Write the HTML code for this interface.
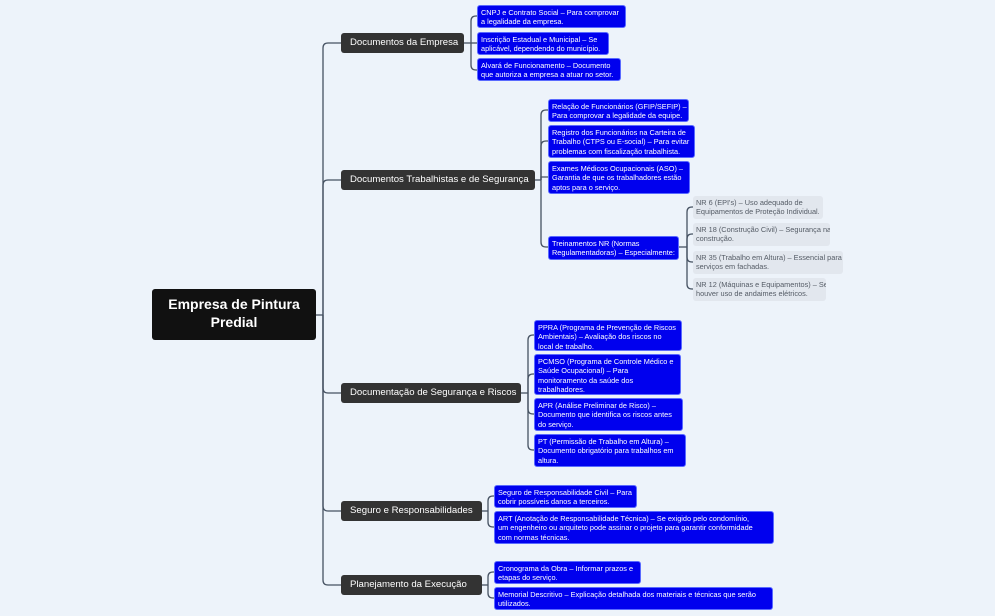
<!DOCTYPE html>
<html><head><meta charset="utf-8"><style>
body{margin:0;width:995px;height:616px;background:#edf3fa;position:relative;overflow:hidden;font-family:"Liberation Sans",sans-serif}
.n{position:absolute;box-sizing:border-box}
.root{background:#111;color:#fff;font-weight:bold;font-size:14px;line-height:18px;text-align:center;border-radius:3px;padding-top:6px}
.l1{background:#333;color:#fff;font-size:9.6px;line-height:20px;border-radius:3px;padding-left:9px;white-space:nowrap}
.lf{background:#0000ee;border:1px solid #5a6aff;color:#fff;font-size:7.35px;line-height:9.4px;border-radius:3px;padding:2px 2px 2px 3px;white-space:nowrap;overflow:hidden}
.g{background:#e2e7ee;color:#555c66;font-size:7.35px;line-height:9.4px;border-radius:3px;padding:2px 2px 2px 3px;white-space:nowrap;overflow:hidden}
svg{position:absolute;left:0;top:0}
path{fill:none;stroke:#465262;stroke-width:1.3}
</style></head><body>
<svg width="995" height="616">
<path d="M316 315 H323"/>
<path d="M323 315 V48 Q323 43 328 43 H341"/>
<path d="M323 315 V185 Q323 180 328 180 H341"/>
<path d="M323 315 V388 Q323 393 328 393 H341"/>
<path d="M323 315 V506 Q323 511 328 511 H341"/>
<path d="M323 315 V580 Q323 585 328 585 H341"/>
<path d="M464 43 H471"/>
<path d="M471 43 V21 Q471 16 476 16 H477"/>
<path d="M471 43 H477"/>
<path d="M471 43 V65 Q471 70 476 70 H477"/>
<path d="M535 180 H541"/>
<path d="M541 180 V115 Q541 110 546 110 H548"/>
<path d="M541 180 V146 Q541 141 546 141 H548"/>
<path d="M541 180 V177 H548"/>
<path d="M541 180 V242 Q541 247 546 247 H548"/>
<path d="M679 247 H687"/>
<path d="M687 247 V212 Q687 207 692 207 H693"/>
<path d="M687 247 V239 Q687 234 692 234 H693"/>
<path d="M687 247 V257 Q687 262 692 262 H693"/>
<path d="M687 247 V284 Q687 289 692 289 H693"/>
<path d="M521 393 H528"/>
<path d="M528 393 V340 Q528 335 533 335 H534"/>
<path d="M528 393 V379 Q528 374 533 374 H534"/>
<path d="M528 393 V409 Q528 414 533 414 H534"/>
<path d="M528 393 V445 Q528 450 533 450 H534"/>
<path d="M482 511 H488"/>
<path d="M488 511 V501 Q488 496 493 496 H494"/>
<path d="M488 511 V522 Q488 527 493 527 H494"/>
<path d="M482 585 H488"/>
<path d="M488 585 V577 Q488 572 493 572 H494"/>
<path d="M488 585 V593 Q488 598 493 598 H494"/>
</svg>

<div class="n root" style="left:152px;top:289px;width:164px;height:51px">Empresa de Pintura<br>Predial</div>

<div class="n l1" style="left:341px;top:33px;width:123px;height:20px">Documentos da Empresa</div>
<div class="n l1" style="left:341px;top:170px;width:194px;height:20px">Documentos Trabalhistas e de Segurança</div>
<div class="n l1" style="left:341px;top:383px;width:180px;height:20px">Documentação de Segurança e Riscos</div>
<div class="n l1" style="left:341px;top:501px;width:141px;height:20px">Seguro e Responsabilidades</div>
<div class="n l1" style="left:341px;top:575px;width:141px;height:20px">Planejamento da Execução</div>

<div class="n lf" style="left:477px;top:5px;width:149px;height:23px">CNPJ e Contrato Social – Para comprovar<br>a legalidade da empresa.</div>
<div class="n lf" style="left:477px;top:32px;width:132px;height:23px">Inscrição Estadual e Municipal – Se<br>aplicável, dependendo do município.</div>
<div class="n lf" style="left:477px;top:58px;width:144px;height:23px">Alvará de Funcionamento – Documento<br>que autoriza a empresa a atuar no setor.</div>

<div class="n lf" style="left:548px;top:99px;width:141px;height:23px">Relação de Funcionários (GFIP/SEFIP) –<br>Para comprovar a legalidade da equipe.</div>
<div class="n lf" style="left:548px;top:125px;width:147px;height:33px">Registro dos Funcionários na Carteira de<br>Trabalho (CTPS ou E-social) – Para evitar<br>problemas com fiscalização trabalhista.</div>
<div class="n lf" style="left:548px;top:161px;width:142px;height:33px">Exames Médicos Ocupacionais (ASO) –<br>Garantia de que os trabalhadores estão<br>aptos para o serviço.</div>
<div class="n lf" style="left:548px;top:236px;width:131px;height:24px">Treinamentos NR (Normas<br>Regulamentadoras) – Especialmente:</div>

<div class="n g" style="left:693px;top:196px;width:130px;height:23px">NR 6 (EPI's) – Uso adequado de<br>Equipamentos de Proteção Individual.</div>
<div class="n g" style="left:693px;top:223px;width:137px;height:23px">NR 18 (Construção Civil) – Segurança na<br>construção.</div>
<div class="n g" style="left:693px;top:251px;width:150px;height:23px">NR 35 (Trabalho em Altura) – Essencial para<br>serviços em fachadas.</div>
<div class="n g" style="left:693px;top:278px;width:133px;height:23px">NR 12 (Máquinas e Equipamentos) – Se<br>houver uso de andaimes elétricos.</div>

<div class="n lf" style="left:534px;top:320px;width:148px;height:31px">PPRA (Programa de Prevenção de Riscos<br>Ambientais) – Avaliação dos riscos no<br>local de trabalho.</div>
<div class="n lf" style="left:534px;top:354px;width:147px;height:41px">PCMSO (Programa de Controle Médico e<br>Saúde Ocupacional) – Para<br>monitoramento da saúde dos<br>trabalhadores.</div>
<div class="n lf" style="left:534px;top:398px;width:149px;height:33px">APR (Análise Preliminar de Risco) –<br>Documento que identifica os riscos antes<br>do serviço.</div>
<div class="n lf" style="left:534px;top:434px;width:152px;height:33px">PT (Permissão de Trabalho em Altura) –<br>Documento obrigatório para trabalhos em<br>altura.</div>

<div class="n lf" style="left:494px;top:485px;width:143px;height:23px">Seguro de Responsabilidade Civil – Para<br>cobrir possíveis danos a terceiros.</div>
<div class="n lf" style="left:494px;top:511px;width:280px;height:33px">ART (Anotação de Responsabilidade Técnica) – Se exigido pelo condomínio,<br>um engenheiro ou arquiteto pode assinar o projeto para garantir conformidade<br>com normas técnicas.</div>

<div class="n lf" style="left:494px;top:561px;width:147px;height:23px">Cronograma da Obra – Informar prazos e<br>etapas do serviço.</div>
<div class="n lf" style="left:494px;top:587px;width:279px;height:23px">Memorial Descritivo – Explicação detalhada dos materiais e técnicas que serão<br>utilizados.</div>
</body></html>
